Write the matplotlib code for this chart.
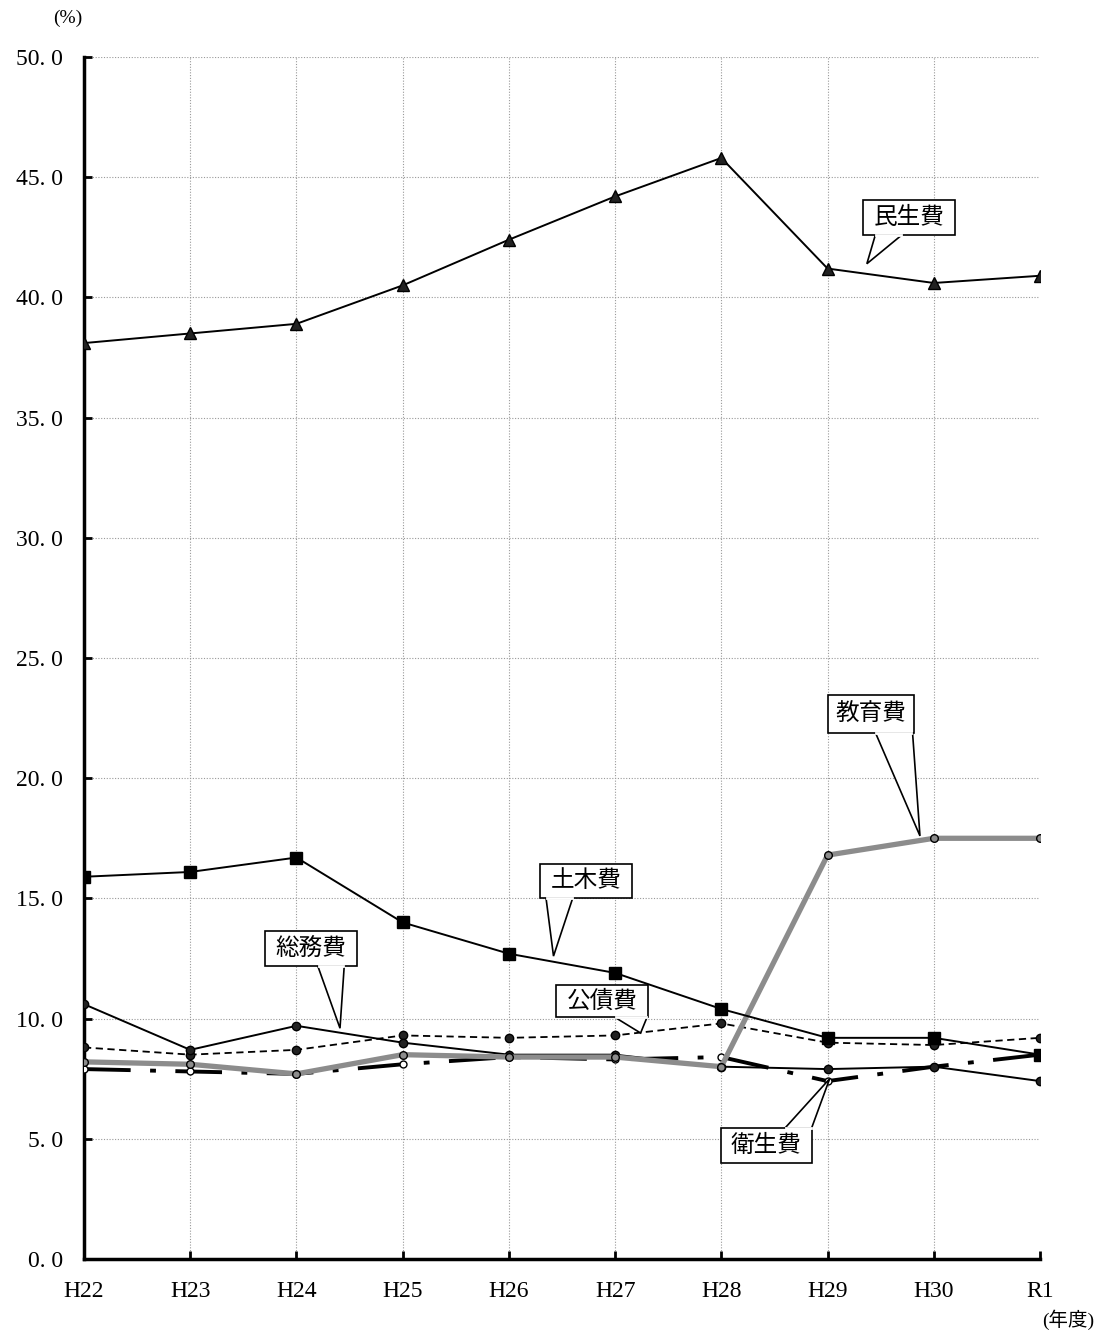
import numpy as np
import matplotlib.pyplot as plt
from matplotlib.patches import Polygon

plt.rcParams['font.family'] = ['Liberation Serif', 'Noto Sans CJK JP', 'DejaVu Sans']

years = ['H22', 'H23', 'H24', 'H25', 'H26', 'H27', 'H28', 'H29', 'H30', 'R1']
minsei = [38.1, 38.5, 38.9, 40.5, 42.4, 44.2, 45.8, 41.2, 40.6, 40.9]
doboku = [15.9, 16.1, 16.7, 14.0, 12.7, 11.9, 10.4, 9.2, 9.2, 8.5]
kyoiku = [8.2, 8.1, 7.7, 8.5, 8.4, 8.4, 8.0, 16.8, 17.5, 17.5]
somu = [10.6, 8.7, 9.7, 9.0, 8.5, 8.5, 8.0, 7.9, 8.0, 7.4]
kosai = [8.8, 8.5, 8.7, 9.3, 9.2, 9.3, 9.8, 9.0, 8.9, 9.2]
eisei = [7.9, 7.8, 7.7, 8.1, 8.4, 8.3, 8.4, 7.4, 8.0, 8.5]

x = np.arange(len(years))

fig = plt.figure(figsize=(11.07, 13.34), dpi=100)
ax = fig.add_axes([84/1107, 75/1334, 956/1107, 1202/1334])

ax.plot(x, eisei, color='black', lw=2.8, ls=(0, (12, 5, 1.5, 5)),
        marker='o', ms=5, mfc='white', mec='black', mew=1, zorder=3)
ax.plot(x, kosai, color='black', lw=1.3, ls=(0, (4, 2.5)),
        marker='o', ms=6, mfc='#222222', mec='black', zorder=4)
ax.plot(x, somu, color='black', lw=1.4, marker='o', ms=6,
        mfc='#222222', mec='black', zorder=4)
ax.plot(x, kyoiku, color='#8c8c8c', lw=3.8, marker='o', ms=5.5,
        mfc='#8c8c8c', mec='black', mew=1, zorder=5)
ax.plot(x, doboku, color='black', lw=1.4, marker='s', ms=9,
        mfc='black', mec='black', zorder=6)
ax.plot(x, minsei, color='black', lw=1.4, marker='^', ms=8,
        mfc='#222222', mec='black', zorder=6)

ax.set_xlim(0, 9)
ax.set_ylim(0, 50)
ax.set_yticks(np.arange(0, 50.1, 5))
ax.set_yticklabels([f'{v:.0f}. 0' for v in np.arange(0, 50.1, 5)], fontsize=17)
ax.set_xticks(x)
ax.set_xticklabels(years, fontsize=17)
ax.tick_params(axis='y', direction='in', length=6, width=2, pad=15)
ax.tick_params(axis='x', direction='in', length=6, width=2, pad=16)

for v in np.arange(5, 50.1, 5):
    ax.axhline(v, color='#999999', lw=0.8, ls=(0, (1, 1.5)), zorder=1)
for i in x[1:-1]:
    ax.axvline(i, color='#999999', lw=0.8, ls=(0, (1, 1.5)), zorder=1)

for side in ['top', 'right']:
    ax.spines[side].set_visible(False)
ax.spines['left'].set_linewidth(2.5)
ax.spines['bottom'].set_linewidth(2.5)

fig.text(68/1107, 1 - 18/1334, '(%)', fontsize=14, ha='center', va='center')
fig.text(1068/1107, 1 - 1320/1334, '(年度)', fontsize=14, ha='center', va='center')


def callout(label, box_x, box_y, tip, base, w=0.87, h=1.45):
    # box_x, box_y: lower-left corner of the box in data units
    bx0, bx1 = base
    top = box_y + h
    if tip[1] < box_y:
        edge = box_y
    else:
        edge = top
    ax.add_patch(Polygon([(bx0, edge), tip, (bx1, edge)], closed=True,
                         facecolor='white', edgecolor='black', lw=1.2, zorder=9))
    ax.add_patch(Polygon([(box_x, box_y), (box_x + w, box_y),
                          (box_x + w, top), (box_x, top)], closed=True,
                         facecolor='white', edgecolor='black', lw=1.2, zorder=10))
    ax.plot([bx0 + 0.01, bx1 - 0.01], [edge, edge], color='white', lw=2, zorder=11)
    ax.text(box_x + w / 2, box_y + h / 2, label, fontsize=17, ha='center',
            va='center', family=['Noto Sans CJK JP'], zorder=12)


callout('民生費', 7.33, 42.6, (7.37, 41.4), (7.45, 7.7))
callout('教育費', 7.0, 21.9, (7.87, 17.6), (7.45, 7.8), w=0.81, h=1.55)
callout('土木費', 4.29, 15.0, (4.42, 12.6), (4.35, 4.6))
callout('総務費', 1.7, 12.2, (2.41, 9.6), (2.2, 2.45))
callout('公債費', 4.44, 10.05, (5.24, 9.4), (5.0, 5.3), h=1.35)
callout('衛生費', 6.0, 4.0, (7.02, 7.5), (6.6, 6.85), w=0.85, h=1.45)

fig.savefig('out.png', dpi=100)
